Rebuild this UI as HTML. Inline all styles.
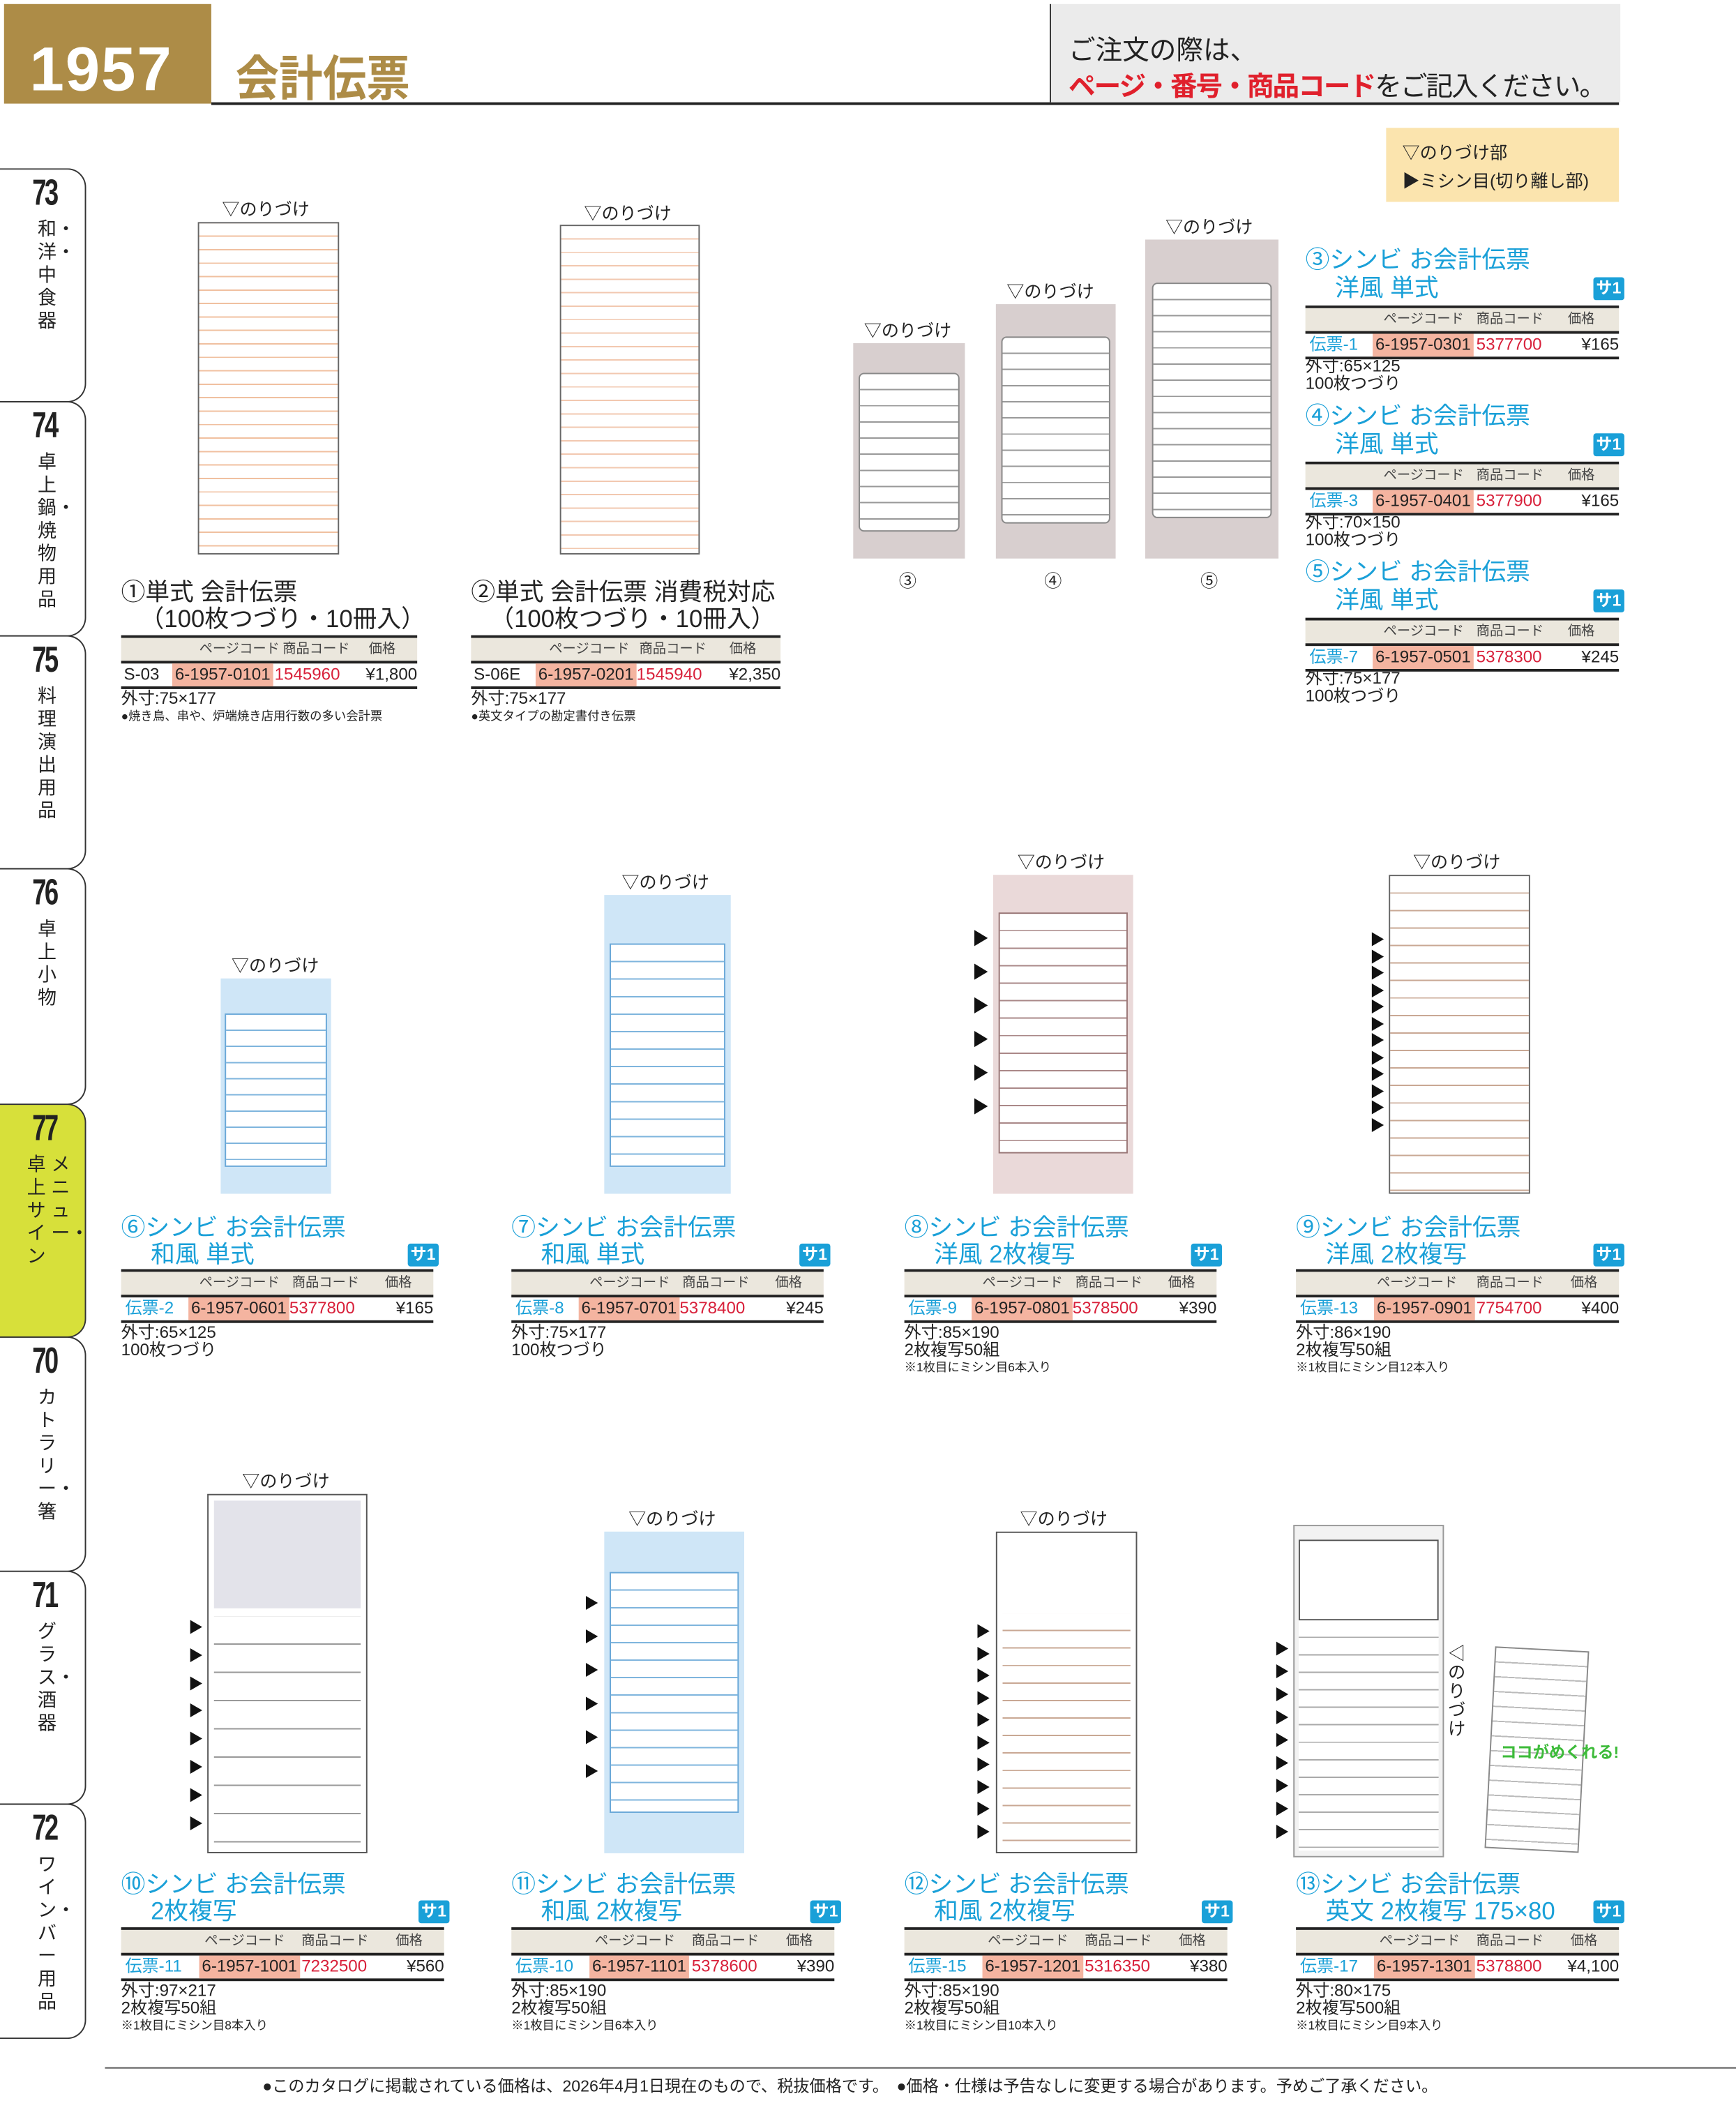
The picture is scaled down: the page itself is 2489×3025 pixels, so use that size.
<!DOCTYPE html>
<html><head><meta charset="utf-8">
<style>
html,body{margin:0;padding:0;background:#fff;}
body{width:2489px;height:3025px;overflow:hidden;position:relative;}
#w{position:absolute;left:0;top:0;width:1290px;height:1568px;transform:scale(1.9295);transform-origin:0 0;font-family:"Liberation Sans","Noto Sans CJK JP",sans-serif;color:#222;}
.a{position:absolute;}
.tab{position:absolute;left:0;width:64px;border:1.5px solid #333;border-left:none;border-radius:0 14px 14px 0;box-sizing:border-box;}
.tab .n{position:absolute;left:24px;top:2px;font-size:27px;font-weight:bold;transform:scaleX(.7);transform-origin:0 0;letter-spacing:-2px;}
.tab .v{position:absolute;left:28px;top:36px;width:16px;font-size:14px;line-height:17px;word-break:break-all;}
.tt{position:absolute;font-size:18px;line-height:20px;white-space:nowrap;}
.bt{color:#1aa0d8;}
.tb{position:absolute;border-top:2.5px solid #222;border-bottom:2px solid #222;height:36px;}
.tb .h{position:absolute;left:0;right:0;top:0;height:17px;background:#ebe7dd;border-bottom:2px solid #222;font-size:10px;line-height:12px;color:#444;}
.tb .h span,.tb .d span{position:absolute;white-space:nowrap;top:0;}
.tb .h span{top:3px;}
.tb .d{position:absolute;left:0;right:0;top:19px;height:17px;font-size:12.5px;line-height:17px;}
.pc{background:#f4b4a0;padding:0 2px;}
.rd{color:#d8203a;}
.bl{color:#1aa0d8;}
.sm{position:absolute;font-size:12.5px;line-height:13px;white-space:nowrap;}
.xs{font-size:9px;}
.badge{position:absolute;background:#1aa0d8;color:#fff;font-size:12px;font-weight:bold;padding:1px 2px;line-height:15px;border-radius:2px;}
.slip{position:absolute;box-sizing:border-box;}
.lbl{position:absolute;font-size:13px;white-space:nowrap;}
.tri{position:absolute;width:0;height:0;border-top:6px solid transparent;border-bottom:6px solid transparent;border-left:10px solid #111;}
.ts{position:absolute;font-size:11px;color:#111;width:12px;}
</style></head><body><div id="w">

<!-- header -->
<div class="a" style="left:3px;top:3px;width:154px;height:74px;background:#ad8c47;"></div>
<div class="a" style="left:22px;top:24px;font-size:46px;font-weight:bold;color:#fff;letter-spacing:1px;">1957</div>
<div class="a" style="left:175px;top:30px;font-size:36px;font-weight:bold;color:#ad8c47;transform:scaleX(.9);transform-origin:0 0;">会計伝票</div>
<div class="a" style="left:157px;top:76px;width:1046px;height:2px;background:#222;"></div>
<div class="a" style="left:780px;top:3px;width:423px;height:73px;background:#ebebeb;border-left:1.5px solid #333;"></div>
<div class="a" style="left:794px;top:21px;font-size:20px;">ご注文の際は、</div>
<div class="a" style="left:794px;top:48px;font-size:20px;white-space:nowrap;letter-spacing:-1px;"><span style="color:#e0202c;font-weight:bold;">ページ・番号・商品コード</span>をご記入ください。</div>
<div class="a" style="left:1030px;top:95px;width:173px;height:55px;background:#fbe4ae;"></div>
<div class="a" style="left:1042px;top:103px;font-size:13px;">▽のりづけ部</div>
<div class="a" style="left:1042px;top:124px;font-size:13px;">▶ミシン目(切り離し部)</div>

<!-- side tabs -->
<div class="tab" style="top:125px;height:174px;"><div class="n">73</div><div class="v">和・洋・中食器</div></div>
<div class="tab" style="top:298px;height:175px;"><div class="n">74</div><div class="v">卓上鍋・焼物用品</div></div>
<div class="tab" style="top:472px;height:174px;"><div class="n">75</div><div class="v">料理演出用品</div></div>
<div class="tab" style="top:645px;height:176px;"><div class="n">76</div><div class="v">卓上小物</div></div>
<div class="tab" style="top:820px;height:174px;background:#d7e03a;"><div class="n">77</div><div class="v" style="left:38px;">メニュー・</div><div class="v" style="left:20px;">卓上サイン</div></div>
<div class="tab" style="top:993px;height:175px;"><div class="n">70</div><div class="v">カトラリー・箸</div></div>
<div class="tab" style="top:1167px;height:174px;"><div class="n">71</div><div class="v">グラス・酒器</div></div>
<div class="tab" style="top:1340px;height:175px;"><div class="n">72</div><div class="v">ワイン・バー用品</div></div>

<!-- slips row 1 -->
<div class="lbl" style="left:165px;top:145px;">▽のりづけ</div>
<div class="slip" style="left:147px;top:165px;width:105px;height:247px;border:1px solid #666;background:repeating-linear-gradient(#fff 0 9px,#f0c0a0 9px 10px);"></div>
<div class="lbl" style="left:434px;top:148px;">▽のりづけ</div>
<div class="slip" style="left:416px;top:167px;width:104px;height:245px;border:1px solid #666;background:repeating-linear-gradient(#fff 0 9px,#f2c8b0 9px 10px);"></div>
<div class="lbl" style="left:642px;top:235px;">▽のりづけ</div>
<div class="slip" style="left:634px;top:255px;width:83px;height:160px;background:#d8cfcf;"><div class="a" style="left:4px;top:22px;right:4px;bottom:20px;background:repeating-linear-gradient(#fff 0 11px,#999 11px 12px);border:1px solid #888;border-radius:4px;"></div></div>
<div class="lbl" style="left:748px;top:206px;">▽のりづけ</div>
<div class="slip" style="left:740px;top:226px;width:89px;height:189px;background:#d8cfcf;"><div class="a" style="left:4px;top:24px;right:4px;bottom:26px;background:repeating-linear-gradient(#fff 0 11px,#999 11px 12px);border:1px solid #888;border-radius:4px;"></div></div>
<div class="lbl" style="left:866px;top:158px;">▽のりづけ</div>
<div class="slip" style="left:851px;top:178px;width:99px;height:237px;background:#d8cfcf;"><div class="a" style="left:5px;top:32px;right:5px;bottom:30px;background:repeating-linear-gradient(#fff 0 11px,#999 11px 12px);border:1px solid #888;border-radius:4px;"></div></div>
<div class="lbl" style="left:668px;top:421px;">③</div>
<div class="lbl" style="left:776px;top:421px;">④</div>
<div class="lbl" style="left:892px;top:421px;">⑤</div>

<!-- product 1 -->
<div class="tt" style="left:90px;top:430px;">①単式 会計伝票</div>
<div class="tt" style="left:104px;top:450px;">（100枚つづり・10冊入）</div>
<div class="tb" style="left:90px;top:472px;width:220px;"><div class="h"><span style="left:58px;">ページコード</span><span style="left:120px;">商品コード</span><span style="left:184px;">価格</span></div><div class="d"><span style="left:2px;">S-03</span><span style="left:38px;" class="pc">6-1957-0101</span><span style="left:114px;" class="rd">1545960</span><span style="right:0;">¥1,800</span></div></div>
<div class="sm" style="left:90px;top:513px;">外寸:75×177</div>
<div class="sm xs" style="left:90px;top:526px;">●焼き鳥、串や、炉端焼き店用行数の多い会計票</div>

<!-- product 2 -->
<div class="tt" style="left:350px;top:430px;">②単式 会計伝票 消費税対応</div>
<div class="tt" style="left:364px;top:450px;">（100枚つづり・10冊入）</div>
<div class="tb" style="left:350px;top:472px;width:230px;"><div class="h"><span style="left:58px;">ページコード</span><span style="left:125px;">商品コード</span><span style="left:192px;">価格</span></div><div class="d"><span style="left:2px;">S-06E</span><span style="left:48px;" class="pc">6-1957-0201</span><span style="left:123px;" class="rd">1545940</span><span style="right:0;">¥2,350</span></div></div>
<div class="sm" style="left:350px;top:513px;">外寸:75×177</div>
<div class="sm xs" style="left:350px;top:526px;">●英文タイプの勘定書付き伝票</div>

<!-- products 3-5 -->
<div class="tt bt" style="left:970px;top:183px;">③シンビ お会計伝票</div>
<div class="tt bt" style="left:992px;top:204px;">洋風 単式</div>
<div class="badge" style="left:1184px;top:206px;">サ1</div>
<div class="tb" style="left:970px;top:227px;width:233px;"><div class="h"><span style="left:58px;">ページコード</span><span style="left:127px;">商品コード</span><span style="left:195px;">価格</span></div><div class="d"><span style="left:3px;" class="bl">伝票-1</span><span style="left:50px;" class="pc">6-1957-0301</span><span style="left:127px;" class="rd">5377700</span><span style="right:0;">¥165</span></div></div>
<div class="sm" style="left:970px;top:266px;">外寸:65×125</div>
<div class="sm" style="left:970px;top:279px;">100枚つづり</div>

<div class="tt bt" style="left:970px;top:299px;">④シンビ お会計伝票</div>
<div class="tt bt" style="left:992px;top:320px;">洋風 単式</div>
<div class="badge" style="left:1184px;top:322px;">サ1</div>
<div class="tb" style="left:970px;top:343px;width:233px;"><div class="h"><span style="left:58px;">ページコード</span><span style="left:127px;">商品コード</span><span style="left:195px;">価格</span></div><div class="d"><span style="left:3px;" class="bl">伝票-3</span><span style="left:50px;" class="pc">6-1957-0401</span><span style="left:127px;" class="rd">5377900</span><span style="right:0;">¥165</span></div></div>
<div class="sm" style="left:970px;top:382px;">外寸:70×150</div>
<div class="sm" style="left:970px;top:395px;">100枚つづり</div>

<div class="tt bt" style="left:970px;top:415px;">⑤シンビ お会計伝票</div>
<div class="tt bt" style="left:992px;top:436px;">洋風 単式</div>
<div class="badge" style="left:1184px;top:438px;">サ1</div>
<div class="tb" style="left:970px;top:459px;width:233px;"><div class="h"><span style="left:58px;">ページコード</span><span style="left:127px;">商品コード</span><span style="left:195px;">価格</span></div><div class="d"><span style="left:3px;" class="bl">伝票-7</span><span style="left:50px;" class="pc">6-1957-0501</span><span style="left:127px;" class="rd">5378300</span><span style="right:0;">¥245</span></div></div>
<div class="sm" style="left:970px;top:498px;">外寸:75×177</div>
<div class="sm" style="left:970px;top:511px;">100枚つづり</div>

<!-- slips row 2 -->
<div class="lbl" style="left:172px;top:707px;">▽のりづけ</div>
<div class="slip" style="left:164px;top:727px;width:82px;height:160px;background:#cfe6f7;"><div class="a" style="left:3px;top:26px;right:3px;bottom:20px;background:repeating-linear-gradient(#fff 0 11px,#7fb5dd 11px 12px);border:1px solid #6aa8d8;"></div></div>
<div class="lbl" style="left:462px;top:645px;">▽のりづけ</div>
<div class="slip" style="left:449px;top:665px;width:94px;height:222px;background:#cfe6f7;"><div class="a" style="left:4px;top:36px;right:4px;bottom:20px;background:repeating-linear-gradient(#fff 0 12px,#7fb5dd 12px 13px);border:1px solid #6aa8d8;"></div></div>
<div class="lbl" style="left:756px;top:630px;">▽のりづけ</div>
<div class="slip" style="left:738px;top:650px;width:104px;height:237px;background:#ead9d9;"><div class="a" style="left:4px;top:28px;right:4px;bottom:30px;background:repeating-linear-gradient(#fff 0 12px,#a88 12px 13px);border:1px solid #977;"></div></div>
<div class="lbl" style="left:1050px;top:630px;">▽のりづけ</div>
<div class="slip" style="left:1032px;top:650px;width:105px;height:237px;background:repeating-linear-gradient(#fff 0 12px,#c9a894 12px 13px);border:1px solid #666;"></div>
<div class="tri" style="left:724px;top:691px;"></div><div class="tri" style="left:724px;top:716px;"></div><div class="tri" style="left:724px;top:741px;"></div><div class="tri" style="left:724px;top:766px;"></div><div class="tri" style="left:724px;top:791px;"></div><div class="tri" style="left:724px;top:816px;"></div>
<div class="ts" style="left:1018px;top:693px;line-height:12.5px;">▶<br>▶<br>▶<br>▶<br>▶<br>▶<br>▶<br>▶<br>▶<br>▶<br>▶<br>▶</div>

<!-- products 6-9 -->
<div class="tt bt" style="left:90px;top:902px;">⑥シンビ お会計伝票</div>
<div class="tt bt" style="left:112px;top:922px;">和風 単式</div>
<div class="badge" style="left:303px;top:924px;">サ1</div>
<div class="tb" style="left:90px;top:943px;width:232px;"><div class="h"><span style="left:58px;">ページコード</span><span style="left:127px;">商品コード</span><span style="left:196px;">価格</span></div><div class="d"><span style="left:3px;" class="bl">伝票-2</span><span style="left:50px;" class="pc">6-1957-0601</span><span style="left:125px;" class="rd">5377800</span><span style="right:0;">¥165</span></div></div>
<div class="sm" style="left:90px;top:984px;">外寸:65×125</div>
<div class="sm" style="left:90px;top:997px;">100枚つづり</div>

<div class="tt bt" style="left:380px;top:902px;">⑦シンビ お会計伝票</div>
<div class="tt bt" style="left:402px;top:922px;">和風 単式</div>
<div class="badge" style="left:594px;top:924px;">サ1</div>
<div class="tb" style="left:380px;top:943px;width:232px;"><div class="h"><span style="left:58px;">ページコード</span><span style="left:127px;">商品コード</span><span style="left:196px;">価格</span></div><div class="d"><span style="left:3px;" class="bl">伝票-8</span><span style="left:50px;" class="pc">6-1957-0701</span><span style="left:125px;" class="rd">5378400</span><span style="right:0;">¥245</span></div></div>
<div class="sm" style="left:380px;top:984px;">外寸:75×177</div>
<div class="sm" style="left:380px;top:997px;">100枚つづり</div>

<div class="tt bt" style="left:672px;top:902px;">⑧シンビ お会計伝票</div>
<div class="tt bt" style="left:694px;top:922px;">洋風 2枚複写</div>
<div class="badge" style="left:885px;top:924px;">サ1</div>
<div class="tb" style="left:672px;top:943px;width:232px;"><div class="h"><span style="left:58px;">ページコード</span><span style="left:127px;">商品コード</span><span style="left:196px;">価格</span></div><div class="d"><span style="left:3px;" class="bl">伝票-9</span><span style="left:50px;" class="pc">6-1957-0801</span><span style="left:125px;" class="rd">5378500</span><span style="right:0;">¥390</span></div></div>
<div class="sm" style="left:672px;top:984px;">外寸:85×190</div>
<div class="sm" style="left:672px;top:997px;">2枚複写50組</div>
<div class="sm xs" style="left:672px;top:1010px;">※1枚目にミシン目6本入り</div>

<div class="tt bt" style="left:963px;top:902px;">⑨シンビ お会計伝票</div>
<div class="tt bt" style="left:985px;top:922px;">洋風 2枚複写</div>
<div class="badge" style="left:1184px;top:924px;">サ1</div>
<div class="tb" style="left:963px;top:943px;width:240px;"><div class="h"><span style="left:60px;">ページコード</span><span style="left:134px;">商品コード</span><span style="left:204px;">価格</span></div><div class="d"><span style="left:3px;" class="bl">伝票-13</span><span style="left:58px;" class="pc">6-1957-0901</span><span style="left:134px;" class="rd">7754700</span><span style="right:0;">¥400</span></div></div>
<div class="sm" style="left:963px;top:984px;">外寸:86×190</div>
<div class="sm" style="left:963px;top:997px;">2枚複写50組</div>
<div class="sm xs" style="left:963px;top:1010px;">※1枚目にミシン目12本入り</div>

<!-- slips row 3 -->
<div class="lbl" style="left:180px;top:1090px;">▽のりづけ</div>
<div class="slip" style="left:154px;top:1110px;width:119px;height:267px;border:1px solid #555;background:#fff;"><div class="a" style="left:4px;top:4px;right:4px;height:80px;background:#e3e3ea;"></div><div class="a" style="left:4px;top:90px;right:4px;bottom:4px;background:repeating-linear-gradient(#fff 0 20px,#999 20px 21px);"></div></div>
<div class="lbl" style="left:467px;top:1118px;">▽のりづけ</div>
<div class="slip" style="left:449px;top:1138px;width:104px;height:239px;background:#cfe6f7;"><div class="a" style="left:4px;top:30px;right:4px;bottom:30px;background:repeating-linear-gradient(#fff 0 12px,#7fb5dd 12px 13px);border:1px solid #6aa8d8;"></div></div>
<div class="lbl" style="left:758px;top:1118px;">▽のりづけ</div>
<div class="slip" style="left:740px;top:1138px;width:105px;height:239px;border:1px solid #555;background:#fff;"><div class="a" style="left:4px;top:60px;right:4px;bottom:4px;background:repeating-linear-gradient(#fff 0 12px,#c9a894 12px 13px);"></div></div>
<div class="slip" style="left:961px;top:1133px;width:112px;height:247px;border:1px solid #999;background:#f2f2f2;"><div class="a" style="left:3px;top:10px;right:3px;height:58px;border:1px solid #555;background:#fff;"></div><div class="a" style="left:3px;top:70px;right:3px;bottom:4px;background:repeating-linear-gradient(#fff 0 12px,#aaa 12px 13px);"></div></div>
<div class="a" style="left:1076px;top:1222px;width:12px;font-size:13px;line-height:14px;">◁のりづけ</div>
<div class="slip" style="left:1107px;top:1225px;width:70px;height:150px;border:1px solid #888;background:repeating-linear-gradient(#fff 0 10px,#bbb 10px 11px);transform:rotate(3deg);"></div>
<div class="a" style="left:1115px;top:1293px;font-size:12px;font-weight:bold;color:#3dbb3a;white-space:nowrap;">ココがめくれる!</div>
<div class="ts" style="left:140px;top:1200px;line-height:20.8px;">▶<br>▶<br>▶<br>▶<br>▶<br>▶<br>▶<br>▶</div>
<div class="ts" style="left:434px;top:1180px;line-height:25px;">▶<br>▶<br>▶<br>▶<br>▶<br>▶</div>
<div class="ts" style="left:725px;top:1205px;line-height:16.5px;">▶<br>▶<br>▶<br>▶<br>▶<br>▶<br>▶<br>▶<br>▶<br>▶</div>
<div class="ts" style="left:947px;top:1218px;line-height:17px;">▶<br>▶<br>▶<br>▶<br>▶<br>▶<br>▶<br>▶<br>▶</div>

<!-- products 10-13 -->
<div class="tt bt" style="left:90px;top:1390px;">⑩シンビ お会計伝票</div>
<div class="tt bt" style="left:112px;top:1410px;">2枚複写</div>
<div class="badge" style="left:311px;top:1412px;">サ1</div>
<div class="tb" style="left:90px;top:1432px;width:240px;"><div class="h"><span style="left:62px;">ページコード</span><span style="left:134px;">商品コード</span><span style="left:204px;">価格</span></div><div class="d"><span style="left:3px;" class="bl">伝票-11</span><span style="left:58px;" class="pc">6-1957-1001</span><span style="left:134px;" class="rd">7232500</span><span style="right:0;">¥560</span></div></div>
<div class="sm" style="left:90px;top:1473px;">外寸:97×217</div>
<div class="sm" style="left:90px;top:1486px;">2枚複写50組</div>
<div class="sm xs" style="left:90px;top:1499px;">※1枚目にミシン目8本入り</div>

<div class="tt bt" style="left:380px;top:1390px;">⑪シンビ お会計伝票</div>
<div class="tt bt" style="left:402px;top:1410px;">和風 2枚複写</div>
<div class="badge" style="left:602px;top:1412px;">サ1</div>
<div class="tb" style="left:380px;top:1432px;width:240px;"><div class="h"><span style="left:62px;">ページコード</span><span style="left:134px;">商品コード</span><span style="left:204px;">価格</span></div><div class="d"><span style="left:3px;" class="bl">伝票-10</span><span style="left:58px;" class="pc">6-1957-1101</span><span style="left:134px;" class="rd">5378600</span><span style="right:0;">¥390</span></div></div>
<div class="sm" style="left:380px;top:1473px;">外寸:85×190</div>
<div class="sm" style="left:380px;top:1486px;">2枚複写50組</div>
<div class="sm xs" style="left:380px;top:1499px;">※1枚目にミシン目6本入り</div>

<div class="tt bt" style="left:672px;top:1390px;">⑫シンビ お会計伝票</div>
<div class="tt bt" style="left:694px;top:1410px;">和風 2枚複写</div>
<div class="badge" style="left:893px;top:1412px;">サ1</div>
<div class="tb" style="left:672px;top:1432px;width:240px;"><div class="h"><span style="left:62px;">ページコード</span><span style="left:134px;">商品コード</span><span style="left:204px;">価格</span></div><div class="d"><span style="left:3px;" class="bl">伝票-15</span><span style="left:58px;" class="pc">6-1957-1201</span><span style="left:134px;" class="rd">5316350</span><span style="right:0;">¥380</span></div></div>
<div class="sm" style="left:672px;top:1473px;">外寸:85×190</div>
<div class="sm" style="left:672px;top:1486px;">2枚複写50組</div>
<div class="sm xs" style="left:672px;top:1499px;">※1枚目にミシン目10本入り</div>

<div class="tt bt" style="left:963px;top:1390px;">⑬シンビ お会計伝票</div>
<div class="tt bt" style="left:985px;top:1410px;">英文 2枚複写 175×80</div>
<div class="badge" style="left:1184px;top:1412px;">サ1</div>
<div class="tb" style="left:963px;top:1432px;width:240px;"><div class="h"><span style="left:62px;">ページコード</span><span style="left:134px;">商品コード</span><span style="left:204px;">価格</span></div><div class="d"><span style="left:3px;" class="bl">伝票-17</span><span style="left:58px;" class="pc">6-1957-1301</span><span style="left:134px;" class="rd">5378800</span><span style="right:0;">¥4,100</span></div></div>
<div class="sm" style="left:963px;top:1473px;">外寸:80×175</div>
<div class="sm" style="left:963px;top:1486px;">2枚複写500組</div>
<div class="sm xs" style="left:963px;top:1499px;">※1枚目にミシン目9本入り</div>

<!-- footer -->
<div class="a" style="left:78px;top:1536px;width:1212px;height:1px;background:#555;"></div>
<div class="a" style="left:195px;top:1541px;font-size:12px;white-space:nowrap;">●このカタログに掲載されている価格は、2026年4月1日現在のもので、税抜価格です。　●価格・仕様は予告なしに変更する場合があります。予めご了承ください。</div>

</div></body></html>
